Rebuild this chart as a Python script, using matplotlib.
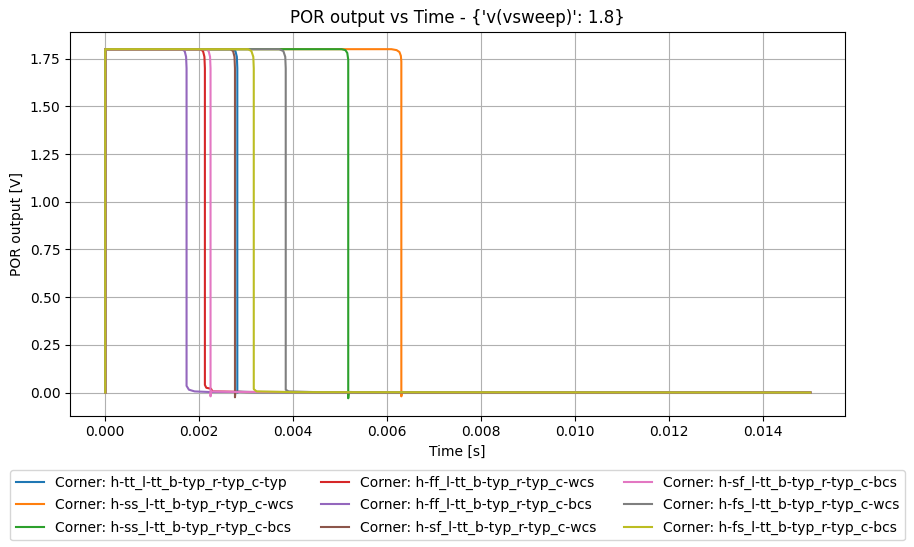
import matplotlib.pyplot as plt

# corner names, in plot order
corners = [
    "h-tt_l-tt_b-typ_r-typ_c-typ",
    "h-ss_l-tt_b-typ_r-typ_c-wcs",
    "h-ss_l-tt_b-typ_r-typ_c-bcs",
    "h-ff_l-tt_b-typ_r-typ_c-wcs",
    "h-ff_l-tt_b-typ_r-typ_c-bcs",
    "h-sf_l-tt_b-typ_r-typ_c-wcs",
    "h-sf_l-tt_b-typ_r-typ_c-bcs",
    "h-fs_l-tt_b-typ_r-typ_c-wcs",
    "h-fs_l-tt_b-typ_r-typ_c-bcs",
]

# waveform points (time in s, voltage in V)
t_tt_typ = [0, 0, 0.00270, 0.00277, 0.00280, 0.00281, 0.00281, 0.00285, 0.0032, 0.015]
v_tt_typ = [0, 1.80, 1.80, 1.79, 1.76, 1.70, 0.00, 0.004, 0.002, 0.0]

t_ss_wcs = [0, 0, 0.00609, 0.00620, 0.00626, 0.00629, 0.00630, 0.00630, 0.00631, 0.0065, 0.015]
v_ss_wcs = [0, 1.80, 1.80, 1.795, 1.785, 1.765, 1.735, -0.02, 0.003, 0.002, 0.0]

t_ss_bcs = [0, 0, 0.00503, 0.00511, 0.00515, 0.00517, 0.00517, 0.00518, 0.0054, 0.015]
v_ss_bcs = [0, 1.80, 1.80, 1.795, 1.78, 1.745, -0.03, 0.003, 0.002, 0.0]

t_ff_wcs = [0, 0, 0.00202, 0.00208, 0.00211, 0.00212, 0.00212, 0.00215, 0.00225, 0.00228, 0.0030, 0.015]
v_ff_wcs = [0, 1.80, 1.80, 1.79, 1.76, 1.70, 0.04, 0.025, 0.02, 0.006, 0.003, 0.0]

t_ff_bcs = [0, 0, 0.00163, 0.00169, 0.00172, 0.00173, 0.00173, 0.00178, 0.00190, 0.0022, 0.015]
v_ff_bcs = [0, 1.80, 1.80, 1.79, 1.76, 1.70, 0.035, 0.015, 0.006, 0.003, 0.0]

t_sf_wcs = [0, 0, 0.00266, 0.00272, 0.00275, 0.00276, 0.00276, 0.00277, 0.0030, 0.015]
v_sf_wcs = [0, 1.80, 1.80, 1.79, 1.76, 1.70, -0.025, 0.004, 0.002, 0.0]

t_sf_bcs = [0, 0, 0.00214, 0.00220, 0.00223, 0.00224, 0.00224, 0.00225, 0.0028, 0.015]
v_sf_bcs = [0, 1.80, 1.80, 1.79, 1.76, 1.70, -0.02, 0.006, 0.003, 0.0]

t_fs_wcs = [0, 0, 0.00370, 0.00379, 0.00383, 0.00384, 0.00384, 0.00390, 0.0045, 0.015]
v_fs_wcs = [0, 1.80, 1.80, 1.79, 1.76, 1.70, 0.015, 0.006, 0.002, 0.0]

t_fs_bcs = [0, 0, 0.00304, 0.00311, 0.00315, 0.00316, 0.00316, 0.00322, 0.0040, 0.015]
v_fs_bcs = [0, 1.80, 1.80, 1.79, 1.76, 1.70, 0.018, 0.006, 0.002, 0.0]

times = [t_tt_typ, t_ss_wcs, t_ss_bcs, t_ff_wcs, t_ff_bcs, t_sf_wcs, t_sf_bcs, t_fs_wcs, t_fs_bcs]
volts = [v_tt_typ, v_ss_wcs, v_ss_bcs, v_ff_wcs, v_ff_bcs, v_sf_wcs, v_sf_bcs, v_fs_wcs, v_fs_bcs]

fig, ax = plt.subplots(figsize=(9.14, 5.47), dpi=100)
fig.subplots_adjust(left=0.0766, right=0.925, top=0.942, bottom=0.24)

for name, t, v in zip(corners, times, volts):
    ax.plot(t, v, label="Corner: " + name)

ax.set_title("POR output vs Time - {'v(vsweep)': 1.8}")
ax.set_xlabel("Time [s]")
ax.set_ylabel("POR output [V]")
ax.grid(True)
ax.legend(loc="upper center", bbox_to_anchor=(0.5, -0.124), ncol=3, labelspacing=0.6)

fig.savefig("out.png")
